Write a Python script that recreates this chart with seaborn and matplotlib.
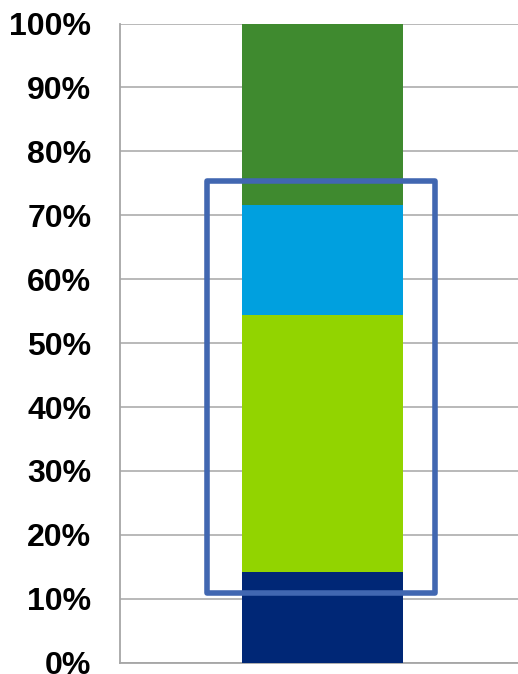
import matplotlib
matplotlib.use("Agg")
import matplotlib.pyplot as plt
from matplotlib.patches import Rectangle
import seaborn as sns
import pandas as pd
import numpy as np

# segment shares, bottom to top (percent)
segments = ["Segment 1", "Segment 2", "Segment 3", "Segment 4"]
shares = [14.2, 40.2, 17.2, 28.4]
colors = ["#002776", "#92D400", "#00A0DF", "#3F8A2F"]
ticks = [0, 10, 20, 30, 40, 50, 60, 70, 80, 90, 100]
tick_labels = [f"{t}%" for t in ticks]
# highlighted range drawn as an outline box
highlight_low, highlight_high = 10.9, 75.3

sns.set_theme(style="white")
plt.rcParams["font.family"] = ["Liberation Sans", "DejaVu Sans"]

fig = plt.figure(figsize=(5.18, 6.74), dpi=100)
ax = fig.add_axes([0.2326, 0.0168, 0.779, 0.9483])

tops = np.cumsum(shares)
df = pd.DataFrame({"group": ["all"] * len(segments), "segment": segments, "top": tops})

# draw cumulative tops from largest down so each bar covers the one above it
for i in reversed(range(len(segments))):
    sns.barplot(data=df.iloc[[i]], x="group", y="top", color=colors[i],
                width=0.4, saturation=1, linewidth=0, ax=ax, zorder=3)

ax.set_xlim(-0.5, 0.5)
ax.set_ylim(0, 100)
ax.set_yticks(ticks)
ax.set_yticklabels(tick_labels, fontsize=23, fontweight="bold", color="black")
ax.tick_params(axis="y", pad=21, length=0)
ax.set_xticks([])
ax.set_xlabel("")
ax.set_ylabel("")
ax.yaxis.grid(True, color="#b3b3b3", linewidth=1.3, zorder=0)
ax.set_axisbelow(True)

for side in ["top", "right"]:
    ax.spines[side].set_visible(False)
ax.spines["left"].set_color("#a6a6a6")
ax.spines["left"].set_linewidth(1.3)
ax.spines["bottom"].set_color("#a6a6a6")
ax.spines["bottom"].set_linewidth(1.3)

box = Rectangle((-0.286, highlight_low), 0.565, highlight_high - highlight_low,
                fill=False, edgecolor="#4167B1", linewidth=4, joinstyle="round",
                zorder=5, clip_on=False)
ax.add_patch(box)

fig.savefig("out.png", dpi=100)
